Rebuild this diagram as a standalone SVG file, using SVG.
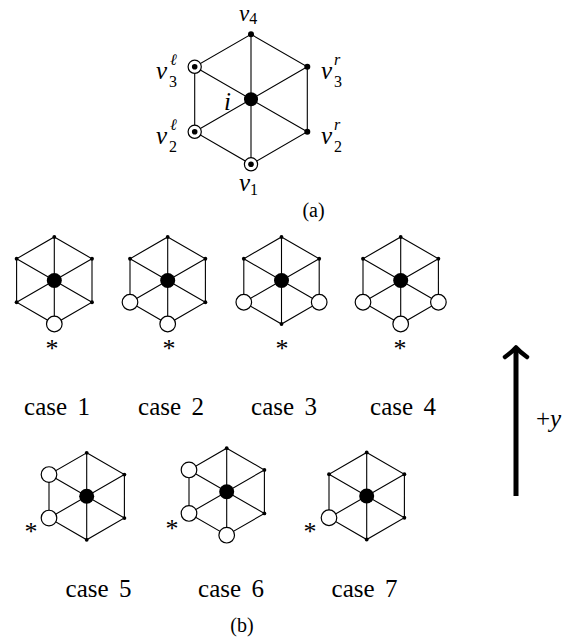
<svg xmlns="http://www.w3.org/2000/svg" width="582" height="639" viewBox="0 0 582 639">
<style>
.e{fill:none;stroke:#000;stroke-width:1.1}
.i{font-style:italic}
.cap{font-size:25px;word-spacing:4px}
.ast{font-size:26px;text-anchor:middle}
</style>
<defs>
<circle id="sd" r="1.9" fill="#000"/>
<circle id="wc" r="7.8" fill="#fff" stroke="#000" stroke-width="1.2"/>
<circle id="cd" r="7.5" fill="#000"/>
<path id="hexS" d="M0,-43.5 L37.7,-21.75 L37.7,21.75 L0,43.5 L-37.7,21.75 L-37.7,-21.75 Z M0,-43.5 L0,43.5 M37.7,-21.75 L-37.7,21.75 M37.7,21.75 L-37.7,-21.75"/>
</defs>
<rect width="582" height="639" fill="#fff"/>

<g id="connectors" class="e">
<path id="edges-a" d="M251,34.3 L307.3,66.8 L307.3,131.8 L251,164.3 L194.7,131.8 L194.7,66.8 Z M251,34.3 L251,164.3 M307.3,66.8 L194.7,131.8 M307.3,131.8 L194.7,66.8"/>
<use href="#hexS" transform="translate(54.3,280.5)"/>
<use href="#hexS" transform="translate(167.7,280.5)"/>
<use href="#hexS" transform="translate(281.5,280.5)"/>
<use href="#hexS" transform="translate(400.7,280.5)"/>
<use href="#hexS" transform="translate(86.7,496.3)"/>
<use href="#hexS" transform="translate(226.7,491.7)"/>
<use href="#hexS" transform="translate(366.7,496)"/>
</g>

<!-- (a) -->
<g id="a-i"><circle cx="251" cy="99.3" r="7" fill="#000"/></g>
<g id="a-v4"><circle cx="251" cy="34.3" r="3" fill="#000"/></g>
<g id="a-v3r"><circle cx="307.3" cy="66.8" r="3" fill="#000"/></g>
<g id="a-v2r"><circle cx="307.3" cy="131.8" r="3" fill="#000"/></g>
<g id="a-v1"><circle cx="251" cy="164.3" r="6.6" fill="#fff" stroke="#000" stroke-width="1.2"/><circle cx="251" cy="164.3" r="2.8" fill="#000"/></g>
<g id="a-v2l"><circle cx="194.7" cy="131.8" r="6.6" fill="#fff" stroke="#000" stroke-width="1.2"/><circle cx="194.7" cy="131.8" r="2.8" fill="#000"/></g>
<g id="a-v3l"><circle cx="194.7" cy="66.8" r="6.6" fill="#fff" stroke="#000" stroke-width="1.2"/><circle cx="194.7" cy="66.8" r="2.8" fill="#000"/></g>

<g id="labels-a" font-family="Liberation Serif, Times New Roman, serif" font-size="25" fill="#000">
<text x="239" y="21" font-size="23"><tspan class="i">v</tspan><tspan font-size="16" dy="3">4</tspan></text>
<text x="156" y="79" class="i">v</text><text x="170" y="65" font-size="16" class="i">ℓ</text><text x="169" y="87" font-size="16">3</text>
<text x="321" y="79" class="i">v</text><text x="334" y="65" font-size="16" class="i">r</text><text x="334" y="87" font-size="16">3</text>
<text x="156" y="144" class="i">v</text><text x="170" y="130" font-size="16" class="i">ℓ</text><text x="169" y="152" font-size="16">2</text>
<text x="321" y="144" class="i">v</text><text x="334" y="130" font-size="16" class="i">r</text><text x="334" y="152" font-size="16">2</text>
<text x="224" y="110" class="i">i</text>
<text x="239" y="191"><tspan class="i">v</tspan><tspan font-size="16" dy="4">1</tspan></text>
<text x="313.5" y="217" font-size="20" text-anchor="middle">(a)</text>
</g>

<!-- case 1 -->
<g id="c1">
<g id="c1-C"><use href="#cd" x="54.3" y="280.5"/></g>
<g id="c1-T"><use href="#sd" x="54.3" y="237"/></g>
<g id="c1-UR"><use href="#sd" x="92" y="258.75"/></g>
<g id="c1-LR"><use href="#sd" x="92" y="302.25"/></g>
<g id="c1-B"><use href="#wc" x="54.3" y="324"/></g>
<g id="c1-LL"><use href="#sd" x="16.6" y="302.25"/></g>
<g id="c1-UL"><use href="#sd" x="16.6" y="258.75"/></g>
</g>
<!-- case 2 -->
<g id="c2">
<g id="c2-C"><use href="#cd" x="167.7" y="280.5"/></g>
<g id="c2-T"><use href="#sd" x="167.7" y="237"/></g>
<g id="c2-UR"><use href="#sd" x="205.4" y="258.75"/></g>
<g id="c2-LR"><use href="#sd" x="205.4" y="302.25"/></g>
<g id="c2-B"><use href="#wc" x="167.7" y="324"/></g>
<g id="c2-LL"><use href="#wc" x="130" y="302.25"/></g>
<g id="c2-UL"><use href="#sd" x="130" y="258.75"/></g>
</g>
<!-- case 3 -->
<g id="c3">
<g id="c3-C"><use href="#cd" x="281.5" y="280.5"/></g>
<g id="c3-T"><use href="#sd" x="281.5" y="237"/></g>
<g id="c3-UR"><use href="#sd" x="319.2" y="258.75"/></g>
<g id="c3-LR"><use href="#wc" x="319.2" y="302.25"/></g>
<g id="c3-B"><use href="#sd" x="281.5" y="324"/></g>
<g id="c3-LL"><use href="#wc" x="243.8" y="302.25"/></g>
<g id="c3-UL"><use href="#sd" x="243.8" y="258.75"/></g>
</g>
<!-- case 4 -->
<g id="c4">
<g id="c4-C"><use href="#cd" x="400.7" y="280.5"/></g>
<g id="c4-T"><use href="#sd" x="400.7" y="237"/></g>
<g id="c4-UR"><use href="#sd" x="438.4" y="258.75"/></g>
<g id="c4-LR"><use href="#wc" x="438.4" y="302.25"/></g>
<g id="c4-B"><use href="#wc" x="400.7" y="324"/></g>
<g id="c4-LL"><use href="#wc" x="363" y="302.25"/></g>
<g id="c4-UL"><use href="#sd" x="363" y="258.75"/></g>
</g>
<!-- case 5 -->
<g id="c5">
<g id="c5-C"><use href="#cd" x="86.7" y="496.3"/></g>
<g id="c5-T"><use href="#sd" x="86.7" y="452.8"/></g>
<g id="c5-UR"><use href="#sd" x="124.4" y="474.55"/></g>
<g id="c5-LR"><use href="#sd" x="124.4" y="518.05"/></g>
<g id="c5-B"><use href="#sd" x="86.7" y="539.8"/></g>
<g id="c5-LL"><use href="#wc" x="49" y="518.05"/></g>
<g id="c5-UL"><use href="#wc" x="49" y="474.55"/></g>
</g>
<!-- case 6 -->
<g id="c6">
<g id="c6-C"><use href="#cd" x="226.7" y="491.7"/></g>
<g id="c6-T"><use href="#sd" x="226.7" y="448.2"/></g>
<g id="c6-UR"><use href="#sd" x="264.4" y="469.95"/></g>
<g id="c6-LR"><use href="#sd" x="264.4" y="513.45"/></g>
<g id="c6-B"><use href="#wc" x="226.7" y="535.2"/></g>
<g id="c6-LL"><use href="#wc" x="189" y="513.45"/></g>
<g id="c6-UL"><use href="#wc" x="189" y="469.95"/></g>
</g>
<!-- case 7 -->
<g id="c7">
<g id="c7-C"><use href="#cd" x="366.7" y="496"/></g>
<g id="c7-T"><use href="#sd" x="366.7" y="452.5"/></g>
<g id="c7-UR"><use href="#sd" x="404.4" y="474.25"/></g>
<g id="c7-LR"><use href="#sd" x="404.4" y="517.75"/></g>
<g id="c7-B"><use href="#sd" x="366.7" y="539.5"/></g>
<g id="c7-LL"><use href="#wc" x="329" y="517.75"/></g>
<g id="c7-UL"><use href="#sd" x="329" y="474.25"/></g>
</g>

<g id="asterisks" font-family="Liberation Serif, Times New Roman, serif" fill="#000">
<text class="ast" x="52" y="357">*</text>
<text class="ast" x="169" y="357">*</text>
<text class="ast" x="282" y="357">*</text>
<text class="ast" x="400" y="357">*</text>
<text class="ast" x="31" y="540">*</text>
<text class="ast" x="172" y="537">*</text>
<text class="ast" x="310" y="540">*</text>
</g>

<g id="captions" font-family="Liberation Serif, Times New Roman, serif" fill="#000" text-anchor="middle">
<text class="cap" x="57" y="415">case 1</text>
<text class="cap" x="171" y="415">case 2</text>
<text class="cap" x="284" y="415">case 3</text>
<text class="cap" x="403" y="415">case 4</text>
<text class="cap" x="98.5" y="597">case 5</text>
<text class="cap" x="231" y="597">case 6</text>
<text class="cap" x="364.5" y="597">case 7</text>
<text x="242" y="632" font-size="20">(b)</text>
</g>

<g id="axis">
<rect x="513.5" y="350" width="5" height="146" fill="#000"/>
<path d="M505,357 Q512,352 516,347.5 Q520,352 527,357" fill="none" stroke="#000" stroke-width="4.5" stroke-linecap="round" stroke-linejoin="round"/>
<text font-family="Liberation Serif, Times New Roman, serif" x="536" y="427" font-size="25" fill="#000">+<tspan class="i">y</tspan></text>
</g>
</svg>
